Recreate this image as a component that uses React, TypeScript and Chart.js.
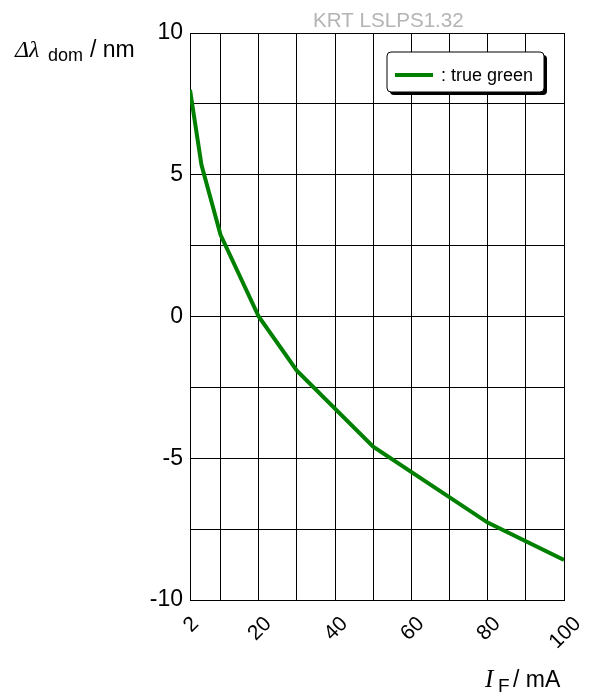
import React, { useEffect, useRef } from "react";
import { Chart, registerables } from "chart.js";

Chart.register(...registerables);

const currentMA = [2, 5, 10, 20, 30, 50, 80, 100];
const deltaLambda = [8.0, 5.35, 2.88, 0.0, -1.91, -4.59, -7.27, -8.59];
const seriesLabel = "true green";
const seriesColor = "#008000";
const xGridValues = [2, 10, 20, 30, 40, 50, 60, 70, 80, 90, 100];
const xTickLabels = [2, 20, 40, 60, 80, 100];
const yLabelValues = [10, 5, 0, -5, -10];
const watermark = "KRT LSLPS1.32";

const SANS = "Arial, 'Liberation Sans', sans-serif";
const SERIF = "'Times New Roman', 'Liberation Serif', serif";

const annotPlugin = {
  id: "annot",
  afterDraw(chart: any) {
    const ctx = chart.ctx as CanvasRenderingContext2D;
    const xs = chart.scales.x;
    const area = chart.chartArea;
    ctx.save();
    // x tick labels rotated 45deg, centered on tick
    ctx.fillStyle = "#000";
    const fs = 21;
    ctx.font = `${fs}px ${SANS}`;
    for (const v of xTickLabels) {
      const px = xs.getPixelForValue(v);
      const t = String(v);
      const w = ctx.measureText(t).width;
      const h = fs * 0.72;
      const half = (w + h) / (2 * Math.SQRT2);
      const cy = area.bottom + 14 + half;
      ctx.save();
      ctx.translate(px, cy);
      ctx.rotate(-Math.PI / 4);
      ctx.textAlign = "center";
      ctx.textBaseline = "alphabetic";
      ctx.fillText(t, 0, h / 2);
      ctx.restore();
    }
    // watermark
    ctx.fillStyle = "#b4b4b4";
    ctx.font = `20.6px ${SANS}`;
    ctx.textAlign = "left";
    ctx.textBaseline = "alphabetic";
    ctx.fillText(watermark, 313, 27);

    // y title
    ctx.fillStyle = "#000";
    ctx.font = `italic 24px ${SERIF}`;
    ctx.fillText("\u0394\u03bb", 15, 57);
    ctx.font = `18px ${SANS}`;
    ctx.fillText("dom", 48, 61);
    ctx.font = `23px ${SANS}`;
    ctx.fillText("/ nm", 90, 57);

    // x title
    ctx.font = `italic 25px ${SERIF}`;
    ctx.fillText("I", 485, 687);
    ctx.font = `19px ${SANS}`;
    ctx.fillText("F", 498, 692);
    ctx.font = `23px ${SANS}`;
    ctx.fillText("/ mA", 513, 687);

    // legend
    const lx = 387, ly = 52, lw = 157, lh = 40, r = 4;
    const rr = (x: number, y: number) => {
      ctx.beginPath();
      ctx.moveTo(x + r, y);
      ctx.lineTo(x + lw - r, y);
      ctx.quadraticCurveTo(x + lw, y, x + lw, y + r);
      ctx.lineTo(x + lw, y + lh - r);
      ctx.quadraticCurveTo(x + lw, y + lh, x + lw - r, y + lh);
      ctx.lineTo(x + r, y + lh);
      ctx.quadraticCurveTo(x, y + lh, x, y + lh - r);
      ctx.lineTo(x, y + r);
      ctx.quadraticCurveTo(x, y, x + r, y);
      ctx.closePath();
    };
    rr(lx + 3, ly + 3);
    ctx.fillStyle = "#000";
    ctx.fill();
    rr(lx, ly);
    ctx.fillStyle = "#fff";
    ctx.fill();
    ctx.lineWidth = 1;
    ctx.strokeStyle = "#000";
    ctx.stroke();
    ctx.beginPath();
    ctx.moveTo(395, 75);
    ctx.lineTo(433, 75);
    ctx.strokeStyle = seriesColor;
    ctx.lineWidth = 4;
    ctx.stroke();
    ctx.fillStyle = "#000";
    ctx.font = `18px ${SANS}`;
    ctx.fillText(": " + seriesLabel, 441, 81);
    ctx.restore();
  },
};

export default function App() {
  const ref = useRef<HTMLCanvasElement | null>(null);
  useEffect(() => {
    if (!ref.current) return;
    const chart = new Chart(ref.current, {
      type: "line",
      data: {
        datasets: [
          {
            label: seriesLabel,
            data: currentMA.map((x, i) => ({ x, y: deltaLambda[i] })),
            borderColor: seriesColor,
            backgroundColor: seriesColor,
            borderWidth: 4,
            pointRadius: 0,
            tension: 0,
            fill: false,
          },
        ],
      },
      options: {
        animation: false,
        responsive: false,
        devicePixelRatio: 1,
        layout: { padding: { top: 33, right: 32, left: 0, bottom: 0 } },
        plugins: { legend: { display: false }, tooltip: { enabled: false } },
        scales: {
          x: {
            type: "linear",
            min: 2,
            max: 100,
            afterBuildTicks: (s: any) => {
              s.ticks = xGridValues.map((v) => ({ value: v }));
            },
            afterFit: (s: any) => {
              s.height = 97;
            },
            ticks: { display: false },
            grid: { color: "#000", lineWidth: 1, drawTicks: false },
            border: { color: "#000", width: 1 },
          },
          y: {
            min: -10,
            max: 10,
            afterFit: (s: any) => {
              s.width = 190;
            },
            ticks: {
              stepSize: 2.5,
              padding: 7,
              color: "#000",
              font: { family: SANS, size: 23 },
              callback: (v: any) => (yLabelValues.includes(Number(v)) ? String(v) : ""),
            },
            grid: { color: "#000", lineWidth: 1, drawTicks: false },
            border: { color: "#000", width: 1 },
          },
        },
      },
      plugins: [annotPlugin],
    });
    return () => chart.destroy();
  }, []);
  return (
    <div style={{ position: "absolute", left: 0, top: 0, width: 596, height: 697, background: "#fff" }}>
      <canvas ref={ref} width={596} height={697} />
    </div>
  );
}
